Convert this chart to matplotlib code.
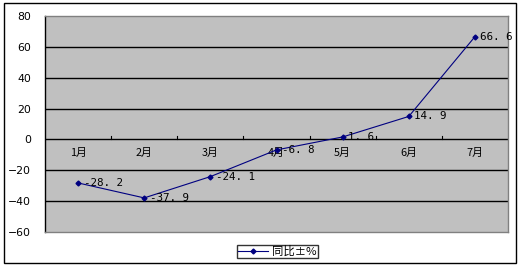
import matplotlib
matplotlib.use("Agg")
from matplotlib import pyplot as plt
from matplotlib.patches import Rectangle

plt.rcParams['font.family'] = ['Noto Sans CJK SC', 'DejaVu Sans']

months = ['1月', '2月', '3月', '4月', '5月', '6月', '7月']
yoy = [-28.2, -37.9, -24.1, -6.8, 1.6, 14.9, 66.6]
series_name = '同比±%'
y_ticks = [-60, -40, -20, 0, 20, 40, 60, 80]

fig = plt.figure(figsize=(5.22, 2.67), dpi=100)
ax = fig.add_axes([45 / 522, 1 - 232 / 267, 463 / 522, 216 / 267])
ax.set_facecolor('#c0c0c0')

x = list(range(len(months)))
ax.set_xlim(-0.5, len(months) - 0.5)
ax.set_ylim(-60, 80)

# gridlines
for v in y_ticks[1:-1]:
    ax.axhline(v, color='black', lw=1, zorder=1)

# category boundary ticks on the zero line
for b in range(1, len(months)):
    ax.plot([b - 0.5, b - 0.5], [0, 2], color='black', lw=0.8, zorder=1)

ax.plot(x, yoy, color='#000080', lw=0.8, marker='D', markersize=2.5, zorder=3,
        label=series_name)

for xi, v in zip(x, yoy):
    ax.annotate(f'{v:g}'.replace('.', '. '), (xi, v), xytext=(4, 0), textcoords='offset points',
                va='center', ha='left', fontsize=7.8, family=['DejaVu Sans Mono'], zorder=4)

for xi, m in zip(x, months):
    ax.text(xi, -8.5, m, ha='center', va='center', fontsize=7.8, zorder=2)

ax.set_xticks([])
ax.set_yticks(y_ticks)
ax.tick_params(axis='y', length=0, pad=10, labelsize=7.8)
for lab in ax.get_yticklabels():
    lab.set_family('DejaVu Sans')

for s in ['top', 'right', 'bottom']:
    ax.spines[s].set_color('#808080')
    ax.spines[s].set_linewidth(1)
ax.spines['left'].set_color('black')
ax.spines['left'].set_linewidth(1)

leg = fig.legend(loc='center', bbox_to_anchor=(277.5 / 522, 1 - 251.5 / 267), fontsize=8.2,
                 frameon=True, fancybox=False, handlelength=2.6, borderpad=0.1,
                 handletextpad=0.4, borderaxespad=0)
leg.get_frame().set_edgecolor('black')
leg.get_frame().set_linewidth(1)

fig.patches.append(Rectangle((4 / 522, 1 - 263 / 267), 512 / 522, 260 / 267,
                             transform=fig.transFigure, fill=False, edgecolor='black', lw=1))

fig.savefig('out.png', dpi=100)
